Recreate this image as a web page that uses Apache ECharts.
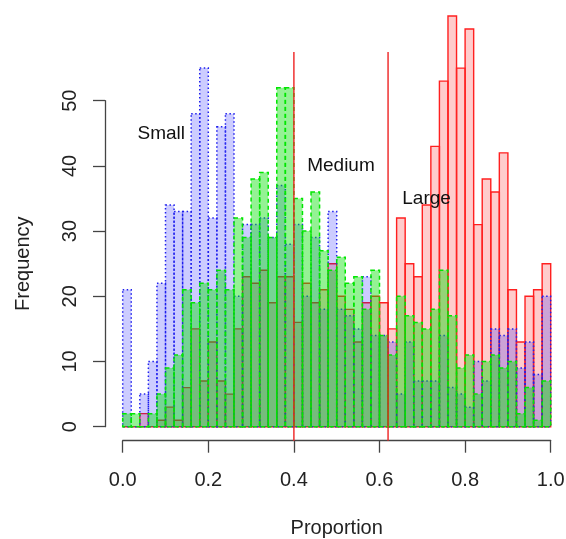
<!DOCTYPE html>
<html>
<head>
<meta charset="utf-8">
<script src="https://cdn.jsdelivr.net/npm/echarts@6/dist/echarts.min.js"></script>
<style>html,body{margin:0;padding:0;background:#fff;}#c{width:566px;height:539px;}</style>
</head>
<body>
<div id="c"></div>
<script>
// ---- data ----
const binWidth = 0.02;
const smallCounts = [21,0,5,10,22,34,33,33,48,55,32,46,48,20,31,31,32,29,37,28,31,20,29,18,33,18,17,15,23,14,14,13,5,13,7,7,7,14,6,5,3,10,7,15,14,15,9,13,8,20];
const mediumCounts = [2,2,0,2,5,9,11,21,19,22,21,24,21,32,29,38,39,29,52,52,35,30,36,27,24,26,22,23,18,24,14,11,20,17,16,15,18,24,17,9,11,5,10,11,9,10,2,6,1,7];
const largeCounts = [0,0,2,0,1,3,1,6,15,7,13,7,5,15,23,22,24,19,23,23,16,22,19,21,25,20,18,13,19,20,19,15,32,25,23,34,43,53,63,55,61,31,38,36,42,21,13,20,21,25];
const cutoffs = [0.4, 0.62];
const labelTexts = ['Small', 'Medium', 'Large'];
const labelX = [0.09, 0.51, 0.71];
const labelY = [45, 40, 35];
const xTicks = [0, 0.2, 0.4, 0.6, 0.8, 1.0];
const yTicks = [0, 10, 20, 30, 40, 50];

function toBins(counts) {
  return counts.map((c, i) => [i * binWidth, (i + 1) * binWidth, c]);
}

function histSeries(name, counts, fill, stroke, dash, lw) {
  return {
    name: name,
    type: 'custom',
    clip: false,
    data: toBins(counts),
    renderItem: function (params, api) {
      const p0 = api.coord([api.value(0), 0]);
      const p1 = api.coord([api.value(1), api.value(2)]);
      return {
        type: 'rect',
        shape: { x: p0[0], y: p1[1], width: p1[0] - p0[0], height: p0[1] - p1[1] },
        style: { fill: fill, stroke: stroke, lineWidth: lw, lineDash: dash }
      };
    }
  };
}

const font = '"Liberation Sans", Arial, Helvetica, sans-serif';
const chart = echarts.init(document.getElementById('c'), null, { renderer: 'canvas' });
chart.setOption({
  animation: false,
  backgroundColor: '#ffffff',
  grid: { left: 122.7, right: 15.3, top: 100.7, bottom: 112.3, containLabel: false, outerBoundsMode: 'none' },
  xAxis: {
    type: 'value', min: 0, max: 1, interval: 0.2, offset: 14,
    name: 'Proportion', nameLocation: 'middle', nameGap: 78,
    nameTextStyle: { fontSize: 20, color: '#222', fontFamily: font },
    axisLine: { show: true, onZero: false, lineStyle: { color: '#444', width: 1.3 } },
    axisTick: { show: true, length: 12, lineStyle: { color: '#444', width: 1.3 } },
    axisLabel: { fontSize: 20, color: '#222', fontFamily: font, margin: 30,
      formatter: v => xTicks.some(t => Math.abs(t - v) < 1e-9) ? v.toFixed(1) : '' },
    splitLine: { show: false }
  },
  yAxis: {
    type: 'value', min: 0, max: 50, interval: 10, offset: 17.7,
    name: 'Frequency', nameLocation: 'middle', nameGap: 72,
    nameTextStyle: { fontSize: 20, color: '#222', fontFamily: font },
    axisLine: { show: true, onZero: false, lineStyle: { color: '#444', width: 1.3 } },
    axisTick: { show: true, length: 12, lineStyle: { color: '#444', width: 1.3 } },
    axisLabel: { fontSize: 20, color: '#222', fontFamily: font, rotate: 90, margin: 25,
      formatter: v => yTicks.indexOf(v) >= 0 ? String(v) : '' },
    splitLine: { show: false }
  },
  series: [
    histSeries('Large', largeCounts, 'rgba(255,0,0,0.2)', '#ff2020', null, 1.4),
    histSeries('Small', smallCounts, 'rgba(0,0,255,0.2)', '#2020ee', [1.5, 2.5], 1.5),
    histSeries('Medium', mediumCounts, 'rgba(0,225,0,0.42)', '#00e600', [4, 3], 1.5),
    {
      type: 'custom', clip: false, silent: true,
      data: cutoffs.map(c => [c]),
      renderItem: function (params, api) {
        const cs = params.coordSys;
        const x = api.coord([api.value(0), 0])[0];
        return {
          type: 'line',
          shape: { x1: x, y1: cs.y - 48.7, x2: x, y2: cs.y + cs.height + 14 },
          style: { stroke: '#ee2222', lineWidth: 1.4 }
        };
      }
    },
    {
      type: 'custom', clip: false, silent: true,
      data: labelTexts.map((t, i) => [labelX[i], labelY[i], t]),
      renderItem: function (params, api) {
        const p = api.coord([api.value(0), api.value(1)]);
        return {
          type: 'text',
          style: { x: p[0], y: p[1], text: labelTexts[params.dataIndex], fill: '#111',
            font: '19px ' + font, textAlign: 'center', textVerticalAlign: 'middle' }
        };
      }
    }
  ]
});
</script>
</body>
</html>
